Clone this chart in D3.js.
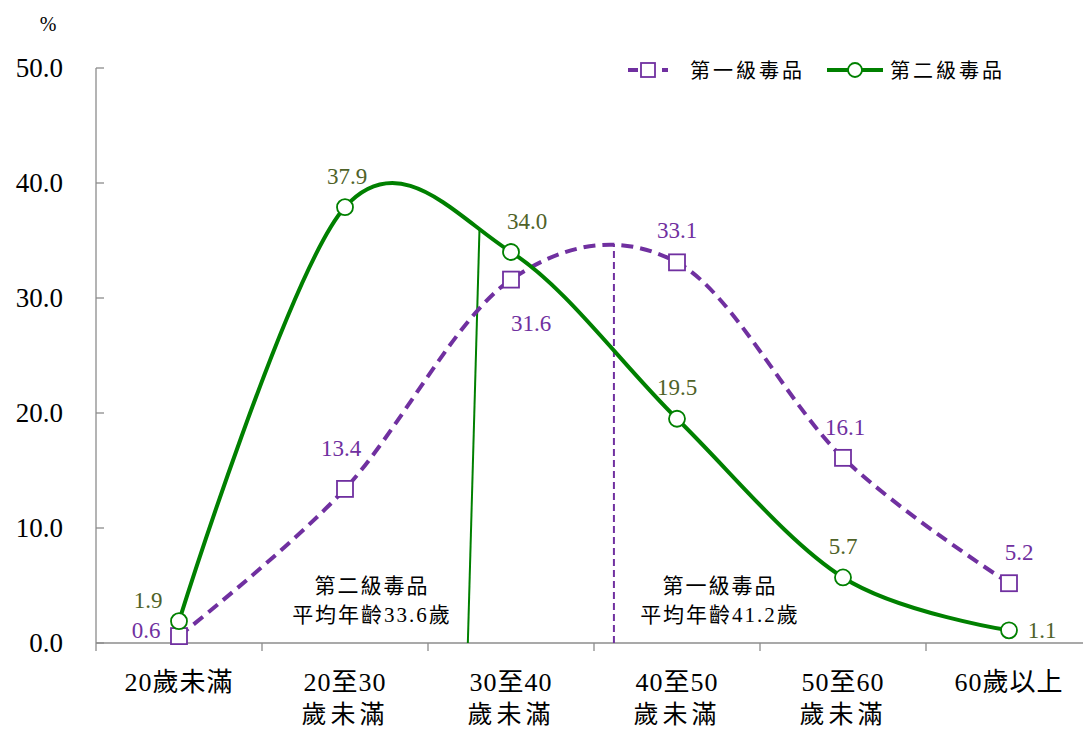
<!DOCTYPE html>
<html lang="zh-Hant">
<head>
<meta charset="UTF-8">
<title>毒品 年齡</title>
<style>
  body { margin: 0; background: #fff; }
</style>
</head>
<body>
<div id="chart"></div>
<script src="https://cdn.jsdelivr.net/npm/d3@7"></script>
<script>
  // categories and values
  var cats1 = ["20歲未滿", "20至30", "30至40", "40至50", "50至60", "60歲以上"];
  var cats2 = ["", "歲未滿", "歲未滿", "歲未滿", "歲未滿", ""];
  var grade1 = [0.6, 13.4, 31.6, 33.1, 16.1, 5.2];   // 第一級毒品
  var grade2 = [1.9, 37.9, 34.0, 19.5, 5.7, 1.1];    // 第二級毒品
  var yTicks = [0, 10, 20, 30, 40, 50];
  var seriesNames = ["第一級毒品", "第二級毒品"];
  // mean age marker lines: [age at bottom, age at top, value at top]
  var mean1 = [41.2, 41.2, 34.7];
  var mean2 = [32.4, 33.1, 35.9];
  var meanText1 = ["第一級毒品", "平均年齡41.2歲"];
  var meanText2 = ["第二級毒品", "平均年齡33.6歲"];

  var W = 1083, H = 729;
  var plotLeft = 96, bandW = 166, plotTop = 68, plotBottom = 643;
  var serif = "'Liberation Serif', 'DejaVu Serif', 'Noto Sans CJK TC', serif";

  var svg = d3.select("#chart").append("svg")
    .attr("width", W).attr("height", H)
    .style("font-family", serif);

  var x = d3.scaleBand().domain(d3.range(cats1.length))
    .range([plotLeft, plotLeft + bandW * cats1.length]).padding(0);
  var y = d3.scaleLinear().domain([0, 50]).range([plotBottom, plotTop]);
  // age scale for mean lines (20 at boundary of 1st band, 10 years per band)
  var age = d3.scaleLinear().domain([20, 30]).range([plotLeft + bandW, plotLeft + 2 * bandW]);

  var cx = function(i) { return x(i) + x.bandwidth() / 2; };

  var purple = "#7030a0", green = "#008000", axisCol = "#8c8c8c";

  // axes
  svg.append("line").attr("x1", plotLeft).attr("x2", plotLeft + bandW * 6)
    .attr("y1", plotBottom).attr("y2", plotBottom).attr("stroke", axisCol).attr("stroke-width", 1.3);
  svg.append("line").attr("x1", plotLeft).attr("x2", plotLeft)
    .attr("y1", plotTop).attr("y2", plotBottom).attr("stroke", axisCol).attr("stroke-width", 1.3);
  d3.range(cats1.length + 1).forEach(function(i) {
    svg.append("line").attr("x1", plotLeft + i * bandW).attr("x2", plotLeft + i * bandW)
      .attr("y1", plotBottom).attr("y2", plotBottom + 8).attr("stroke", axisCol).attr("stroke-width", 1.3);
  });
  yTicks.forEach(function(t) {
    svg.append("line").attr("x1", plotLeft).attr("x2", plotLeft + 8)
      .attr("y1", y(t)).attr("y2", y(t)).attr("stroke", axisCol).attr("stroke-width", 1.3);
    svg.append("text").attr("x", 63).attr("y", y(t) + 9).attr("text-anchor", "end")
      .attr("font-size", 27).text(t.toFixed(1));
  });
  svg.append("text").attr("x", 48).attr("y", 31).attr("text-anchor", "middle")
    .attr("font-size", 20).text("%");

  cats1.forEach(function(c, i) {
    svg.append("text").attr("x", cx(i)).attr("y", 691).attr("text-anchor", "middle")
      .attr("font-size", 26).attr("letter-spacing", 1).text(c);
    svg.append("text").attr("x", cx(i)).attr("y", 723).attr("text-anchor", "middle")
      .attr("font-size", 25).attr("letter-spacing", 4).text(cats2[i]);
  });

  // mean lines
  svg.append("line").attr("x1", age(mean2[0])).attr("x2", age(mean2[1]))
    .attr("y1", y(0)).attr("y2", y(mean2[2])).attr("stroke", green).attr("stroke-width", 2);
  svg.append("line").attr("x1", age(mean1[0])).attr("x2", age(mean1[1]))
    .attr("y1", y(0)).attr("y2", y(mean1[2])).attr("stroke", purple).attr("stroke-width", 2)
    .attr("stroke-dasharray", "7,4");

  meanText2.forEach(function(t, i) {
    svg.append("text").attr("x", 372).attr("y", 593 + i * 29).attr("text-anchor", "middle")
      .attr("font-size", 21).attr("letter-spacing", 2).text(t);
  });
  meanText1.forEach(function(t, i) {
    svg.append("text").attr("x", 720).attr("y", 593 + i * 29).attr("text-anchor", "middle")
      .attr("font-size", 21).attr("letter-spacing", 2).text(t);
  });

  var line = d3.line()
    .x(function(d, i) { return cx(i); })
    .y(function(d) { return y(d); })
    .curve(d3.curveCardinal.tension(0));

  svg.append("path").attr("d", line(grade1)).attr("fill", "none")
    .attr("stroke", purple).attr("stroke-width", 4).attr("stroke-dasharray", "12,7");
  svg.append("path").attr("d", line(grade2)).attr("fill", "none")
    .attr("stroke", green).attr("stroke-width", 4);

  grade1.forEach(function(v, i) {
    svg.append("rect").attr("x", cx(i) - 8).attr("y", y(v) - 8)
      .attr("width", 16).attr("height", 16)
      .attr("fill", "#fff").attr("stroke", purple).attr("stroke-width", 1.8);
  });
  grade2.forEach(function(v, i) {
    svg.append("circle").attr("cx", cx(i)).attr("cy", y(v)).attr("r", 8)
      .attr("fill", "#fff").attr("stroke", green).attr("stroke-width", 1.8);
  });

  // data labels: offsets relative to point
  var off1 = [[-33, -6], [-4, -41], [20, 43], [0, -32], [2, -31], [10, -31]];
  var off2 = [[-31, -21], [2, -31], [16, -31], [0, -32], [0, -31], [33, 0]];
  grade1.forEach(function(v, i) {
    svg.append("text").attr("x", cx(i) + off1[i][0]).attr("y", y(v) + off1[i][1] + 8)
      .attr("text-anchor", "middle").attr("font-size", 23).attr("fill", purple)
      .text(v.toFixed(1));
  });
  grade2.forEach(function(v, i) {
    svg.append("text").attr("x", cx(i) + off2[i][0]).attr("y", y(v) + off2[i][1] + 8)
      .attr("text-anchor", "middle").attr("font-size", 23).attr("fill", "#4f6228")
      .text(v.toFixed(1));
  });

  // legend
  var lg = svg.append("g");
  lg.append("line").attr("x1", 628).attr("x2", 668).attr("y1", 70).attr("y2", 70)
    .attr("stroke", purple).attr("stroke-width", 4).attr("stroke-dasharray", "10,7");
  lg.append("rect").attr("x", 648 - 7).attr("y", 63).attr("width", 14).attr("height", 14)
    .attr("fill", "#fff").attr("stroke", purple).attr("stroke-width", 1.8);
  lg.append("text").attr("x", 690).attr("y", 78).attr("font-size", 20)
    .attr("letter-spacing", 3).text(seriesNames[0]);
  lg.append("line").attr("x1", 827).attr("x2", 883).attr("y1", 70).attr("y2", 70)
    .attr("stroke", green).attr("stroke-width", 4);
  lg.append("circle").attr("cx", 855).attr("cy", 70).attr("r", 7)
    .attr("fill", "#fff").attr("stroke", green).attr("stroke-width", 1.8);
  lg.append("text").attr("x", 890).attr("y", 78).attr("font-size", 20)
    .attr("letter-spacing", 3).text(seriesNames[1]);
</script>
</body>
</html>
